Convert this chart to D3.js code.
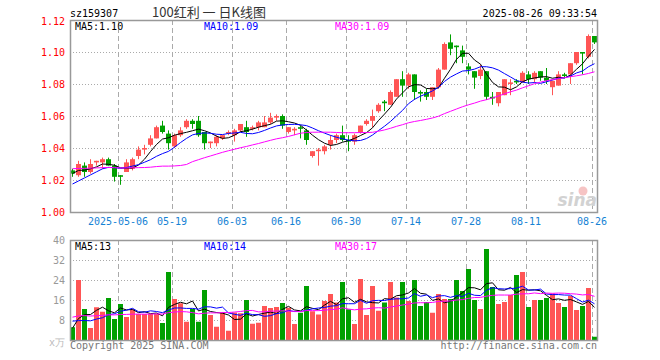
<!DOCTYPE html>
<html>
<head>
<meta charset="utf-8">
<script src="https://cdn.jsdelivr.net/npm/d3@7"></script>
<style>
  body { margin: 0; background: #fff; }
  svg { display: block; }
  text { font-family: "DejaVu Sans Mono", monospace; font-size: 10px; }
</style>
</head>
<body>
<div id="chart"></div>
<script>
const width = 660;
const height = 360;

// Trading days (2025)
const dates = [
  '04-21','04-22','04-23','04-24','04-25','04-28','04-29','04-30',
  '05-06','05-07','05-08','05-09','05-12','05-13','05-14','05-15','05-16','05-19','05-20','05-21','05-22','05-23','05-26','05-27','05-28','05-29','05-30',
  '06-03','06-04','06-05','06-06','06-09','06-10','06-11','06-12','06-13','06-16','06-17','06-18','06-19','06-20','06-23','06-24','06-25','06-26','06-27','06-30',
  '07-01','07-02','07-03','07-04','07-07','07-08','07-09','07-10','07-11','07-14','07-15','07-16','07-17','07-18','07-21','07-22','07-23','07-24','07-25','07-28','07-29','07-30','07-31',
  '08-01','08-04','08-05','08-06','08-07','08-08','08-11','08-12','08-13','08-14','08-15','08-18','08-19','08-20','08-21','08-22','08-25','08-26'
];

const open = [
  1.026,1.023,1.029,1.025,1.031,1.031,1.033,1.029,1.023,1.025,
  1.027,1.035,1.039,1.042,1.046,1.054,1.049,1.041,1.048,1.053,
  1.057,1.057,1.050,1.043,1.043,1.046,1.049,1.048,1.051,1.053,
  1.052,1.053,1.053,1.056,1.059,1.060,1.050,1.051,1.053,1.051,
  1.035,1.038,1.038,1.042,1.045,1.048,1.045,1.044,1.050,1.055,
  1.057,1.063,1.069,1.067,1.072,1.083,1.079,1.086,1.075,1.075,
  1.072,1.078,1.089,1.106,1.104,1.101,1.091,1.088,1.085,1.088,
  1.072,1.068,1.073,1.080,1.082,1.081,1.086,1.083,1.088,1.084,
  1.078,1.079,1.086,1.086,1.093,1.100,1.097,1.110
];
const high = [
  1.027,1.032,1.031,1.033,1.032,1.034,1.034,1.030,1.023,1.033,
  1.034,1.041,1.042,1.048,1.054,1.057,1.051,1.049,1.053,1.058,
  1.058,1.060,1.050,1.044,1.048,1.048,1.051,1.052,1.055,1.057,
  1.054,1.057,1.060,1.062,1.061,1.061,1.053,1.053,1.054,1.052,
  1.038,1.040,1.042,1.048,1.049,1.054,1.048,1.049,1.054,1.058,
  1.064,1.068,1.070,1.076,1.083,1.088,1.087,1.086,1.076,1.077,
  1.078,1.090,1.106,1.111,1.104,1.104,1.093,1.088,1.092,1.088,
  1.075,1.075,1.083,1.083,1.083,1.088,1.088,1.088,1.088,1.090,
  1.082,1.088,1.087,1.093,1.100,1.100,1.111,1.110
];
const low = [
  1.022,1.022,1.022,1.024,1.029,1.027,1.029,1.019,1.017,1.025,
  1.026,1.033,1.036,1.041,1.046,1.049,1.039,1.040,1.047,1.052,
  1.052,1.047,1.039,1.040,1.041,1.045,1.048,1.044,1.050,1.047,
  1.051,1.051,1.053,1.055,1.057,1.052,1.049,1.048,1.046,1.042,
  1.034,1.029,1.036,1.039,1.043,1.044,1.038,1.042,1.049,1.054,
  1.053,1.062,1.063,1.067,1.072,1.072,1.077,1.070,1.069,1.070,
  1.070,1.077,1.089,1.098,1.093,1.093,1.086,1.077,1.083,1.070,
  1.067,1.066,1.073,1.073,1.080,1.081,1.080,1.081,1.082,1.080,
  1.073,1.079,1.084,1.080,1.092,1.086,1.096,1.105
];
const close = [
  1.024,1.030,1.025,1.030,1.032,1.033,1.029,1.022,1.022,1.031,
  1.033,1.039,1.040,1.046,1.053,1.050,1.043,1.048,1.051,1.057,
  1.055,1.048,1.043,1.044,1.047,1.048,1.050,1.051,1.055,1.050,
  1.053,1.056,1.056,1.059,1.060,1.054,1.053,1.052,1.052,1.045,
  1.038,1.039,1.041,1.045,1.048,1.045,1.044,1.048,1.054,1.057,
  1.060,1.067,1.068,1.075,1.083,1.079,1.086,1.075,1.074,1.072,
  1.078,1.089,1.105,1.102,1.103,1.097,1.089,1.084,1.089,1.072,
  1.071,1.075,1.083,1.081,1.081,1.087,1.083,1.087,1.084,1.082,
  1.082,1.086,1.085,1.093,1.100,1.099,1.110,1.106
];
// Volume, x万
const volume = [
  5.1,24,12.4,4.8,13.1,11.3,16.8,8.4,14.4,9.2,
  12.3,10.4,10.4,10.4,10.4,6.8,27.2,16.4,14.7,7.3,
  12.4,7.3,20,10,5.3,11,3.7,11,10.7,16,
  6.5,6.9,13.6,12.8,13.2,14.8,12.9,6.4,10.9,21.6,
  11.5,10.2,15.6,18.4,15,23.2,12.3,6.4,24.4,10,
  21.6,11.7,15,23.2,17,23.2,15.6,24,13.6,15.2,
  10.9,18.4,16.4,16.4,24,19.6,28.4,16,12.4,36.4,
  21.2,14.4,15.2,18,26,27.2,13.2,16,16,16.8,
  18.6,14.8,13.2,17.6,12,13.6,20.8,1.3
];

// Sessions before the window, only feed the moving averages
const prevClose = [
  1.026,1.023,1.026,1.027,1.028,1.026,1.026,1.027,1.030,1.031,
  1.036,1.038,1.040,1.041,1.042,1.043,1.044,1.043,1.038,1.002,
  1.011,1.006,1.011,1.013,1.014,1.020,1.024,1.026,1.026
];
const prevVolume = [
  9,8.5,10,9,8,9.5,10,9,8.5,9,
  10,11,9,8.5,9,10,9.5,9,10,22,
  22,12,6,6,6,4.6,4.6,4.5,4.7
];

// Ticks
const priceTicks = [1.00, 1.02, 1.04, 1.06, 1.08, 1.10, 1.12];
const volumeTicks = [8, 16, 24, 32, 40];
const tickDates = ['05-06','05-19','06-03','06-16','06-30','07-14','07-28','08-11','08-26'];
const tickLabels = ['2025-05-06','05-19','06-03','06-16','06-30','07-14','07-28','08-11','08-26'];

const red = '#ff5555';
const green = '#00a000';
const maColors = ['#000000', '#0000ff', '#ff00ff'];
const maDays = [5, 10, 30];

// Plot areas
const left = 70;
const right = 597;
const priceTop = 20, priceBottom = 212;
const volTop = 240, volBottom = 340;

const x = d3.scaleBand()
    .domain(dates)
    .range([left, left + dates.length * 6]);

const yPrice = d3.scaleLinear().domain([1.00, 1.12]).range([priceBottom, priceTop]);
const yVol = d3.scaleLinear().domain([0, 40]).range([volBottom, volTop]);

const cx = d => x(d) + 2.5;

function movingAverage(values, prev, n) {
    const all = prev.concat(values);
    return values.map((v, i) => d3.mean(all.slice(i + prev.length - n + 1, i + prev.length + 1)));
}

const priceMA = maDays.map(n => movingAverage(close, prevClose, n));
const volMA = maDays.map(n => movingAverage(volume, prevVolume, n));

const svg = d3.select('#chart')
    .append('svg')
    .attr('width', width)
    .attr('height', height);

// Grid: dotted horizontals, dashed verticals
function grid(yScale, ticks, top, bottom) {
    svg.append('g')
        .selectAll('line')
        .data(ticks)
        .enter().append('line')
        .attr('x1', left).attr('x2', right)
        .attr('y1', d => Math.round(yScale(d)) + 0.5)
        .attr('y2', d => Math.round(yScale(d)) + 0.5)
        .attr('stroke', '#aaa')
        .attr('stroke-dasharray', '1,2');

    svg.append('g')
        .selectAll('line')
        .data(tickDates)
        .enter().append('line')
        .attr('x1', d => x(d) + 0.5).attr('x2', d => x(d) + 0.5)
        .attr('y1', top).attr('y2', bottom)
        .attr('stroke', '#aaa')
        .attr('stroke-dasharray', '5,3');
}

grid(yPrice, priceTicks.slice(1, -1), priceTop, priceBottom);
grid(yVol, volumeTicks.slice(0, -1), volTop, volBottom);

// Sina watermark
svg.append('circle')
    .attr('cx', 583).attr('cy', 191).attr('r', 4.5)
    .attr('fill', '#f6c4c4');
svg.append('text')
    .attr('x', 597).attr('y', 206)
    .attr('text-anchor', 'end')
    .style('font-family', 'DejaVu Sans')
    .style('font-size', '17px')
    .style('font-style', 'italic')
    .style('font-weight', 'bold')
    .attr('fill', '#d2d2d2')
    .text('sina');

// Candles
const rows = dates.map((d, i) => ({ date: d, o: open[i], h: high[i], l: low[i], c: close[i], v: volume[i] }));
const colorOf = d => d.c >= d.o ? red : green;

const candles = svg.append('g');

candles.selectAll('.wick')
    .data(rows)
    .enter().append('line')
    .attr('class', 'wick')
    .attr('x1', d => cx(d.date)).attr('x2', d => cx(d.date))
    .attr('y1', d => yPrice(d.h)).attr('y2', d => yPrice(d.l))
    .attr('stroke', colorOf);

candles.selectAll('.body')
    .data(rows)
    .enter().append('rect')
    .attr('class', 'body')
    .attr('x', d => x(d.date))
    .attr('width', x.bandwidth() - 1)
    .attr('y', d => yPrice(Math.max(d.o, d.c)))
    .attr('height', d => Math.max(1, Math.abs(yPrice(d.o) - yPrice(d.c))))
    .attr('fill', colorOf);

// Volume bars
svg.append('g')
    .selectAll('rect')
    .data(rows)
    .enter().append('rect')
    .attr('x', d => x(d.date))
    .attr('width', x.bandwidth() - 1)
    .attr('y', d => yVol(d.v))
    .attr('height', d => yVol(0) - yVol(d.v))
    .attr('fill', colorOf);

// Moving average lines
function maLines(series, yScale) {
    const line = d3.line()
        .x((d, i) => cx(dates[i]))
        .y(d => yScale(d));
    svg.append('g')
        .selectAll('path')
        .data(series)
        .enter().append('path')
        .attr('d', line)
        .attr('fill', 'none')
        .attr('stroke', (d, i) => maColors[i])
        .attr('stroke-width', 1);
}

maLines(priceMA, yPrice);
maLines(volMA, yVol);

// Frames
[[priceTop, priceBottom], [volTop, volBottom]].forEach(([t, b]) => {
    svg.append('rect')
        .attr('x', left + 0.5).attr('y', t + 0.5)
        .attr('width', right - left).attr('height', b - t)
        .attr('fill', 'none')
        .attr('stroke', '#999')
        .attr('stroke-width', 1.5);
});

// Price axis labels
svg.append('g')
    .selectAll('text')
    .data(priceTicks)
    .enter().append('text')
    .attr('x', 65)
    .attr('y', d => yPrice(d) + (d === 1.12 ? 1.5 : 0))
    .attr('dy', '0.35em')
    .attr('text-anchor', 'end')
    .attr('fill', '#ff0000')
    .text(d => d3.format('.2f')(d));

// Volume axis labels
svg.append('g')
    .selectAll('text')
    .data(volumeTicks)
    .enter().append('text')
    .attr('x', 65)
    .attr('y', d => yVol(d))
    .attr('dy', '0.35em')
    .attr('text-anchor', 'end')
    .attr('fill', '#999')
    .text(d => d);

svg.append('text')
    .attr('x', 65).attr('y', 346)
    .attr('text-anchor', 'end')
    .attr('fill', '#bbb')
    .text('x万');

// Date labels
svg.append('g')
    .selectAll('text')
    .data(tickDates)
    .enter().append('text')
    .attr('x', d => x(d))
    .attr('y', 225)
    .attr('text-anchor', 'middle')
    .attr('fill', '#1682d4')
    .text((d, i) => tickLabels[i]);

// Header
svg.append('text').attr('x', 70).attr('y', 16.5).text('sz159307');
svg.append('text')
    .attr('x', 209).attr('y', 17)
    .attr('text-anchor', 'middle')
    .style('font-family', '"Noto Sans CJK SC"')
    .style('font-size', '13px')
    .attr('fill', '#333')
    .text('100红利 一 日K线图');
svg.append('text')
    .attr('x', 597).attr('y', 16.5)
    .attr('text-anchor', 'end')
    .text('2025-08-26 09:33:54');

// MA legends
const legendX = [75, 204, 335];
const fmtPrice = d3.format('.2f');
const fmtVol = d3.format('.0f');

svg.append('g')
    .selectAll('text')
    .data(priceMA)
    .enter().append('text')
    .attr('x', (d, i) => legendX[i])
    .attr('y', 29.5)
    .attr('fill', (d, i) => maColors[i])
    .text((d, i) => `MA${maDays[i]}:${fmtPrice(d[d.length - 1])}`);

svg.append('g')
    .selectAll('text')
    .data(volMA)
    .enter().append('text')
    .attr('x', (d, i) => legendX[i])
    .attr('y', 249.5)
    .attr('fill', (d, i) => maColors[i])
    .text((d, i) => `MA${maDays[i]}:${fmtVol(d[d.length - 1])}`);

// Footer
svg.append('text')
    .attr('x', 70).attr('y', 349)
    .attr('fill', '#777')
    .text('Copyright 2025 SINA.COM');
svg.append('text')
    .attr('x', 597).attr('y', 349)
    .attr('text-anchor', 'end')
    .attr('fill', '#777')
    .text('http://finance.sina.com.cn');
</script>
</body>
</html>
